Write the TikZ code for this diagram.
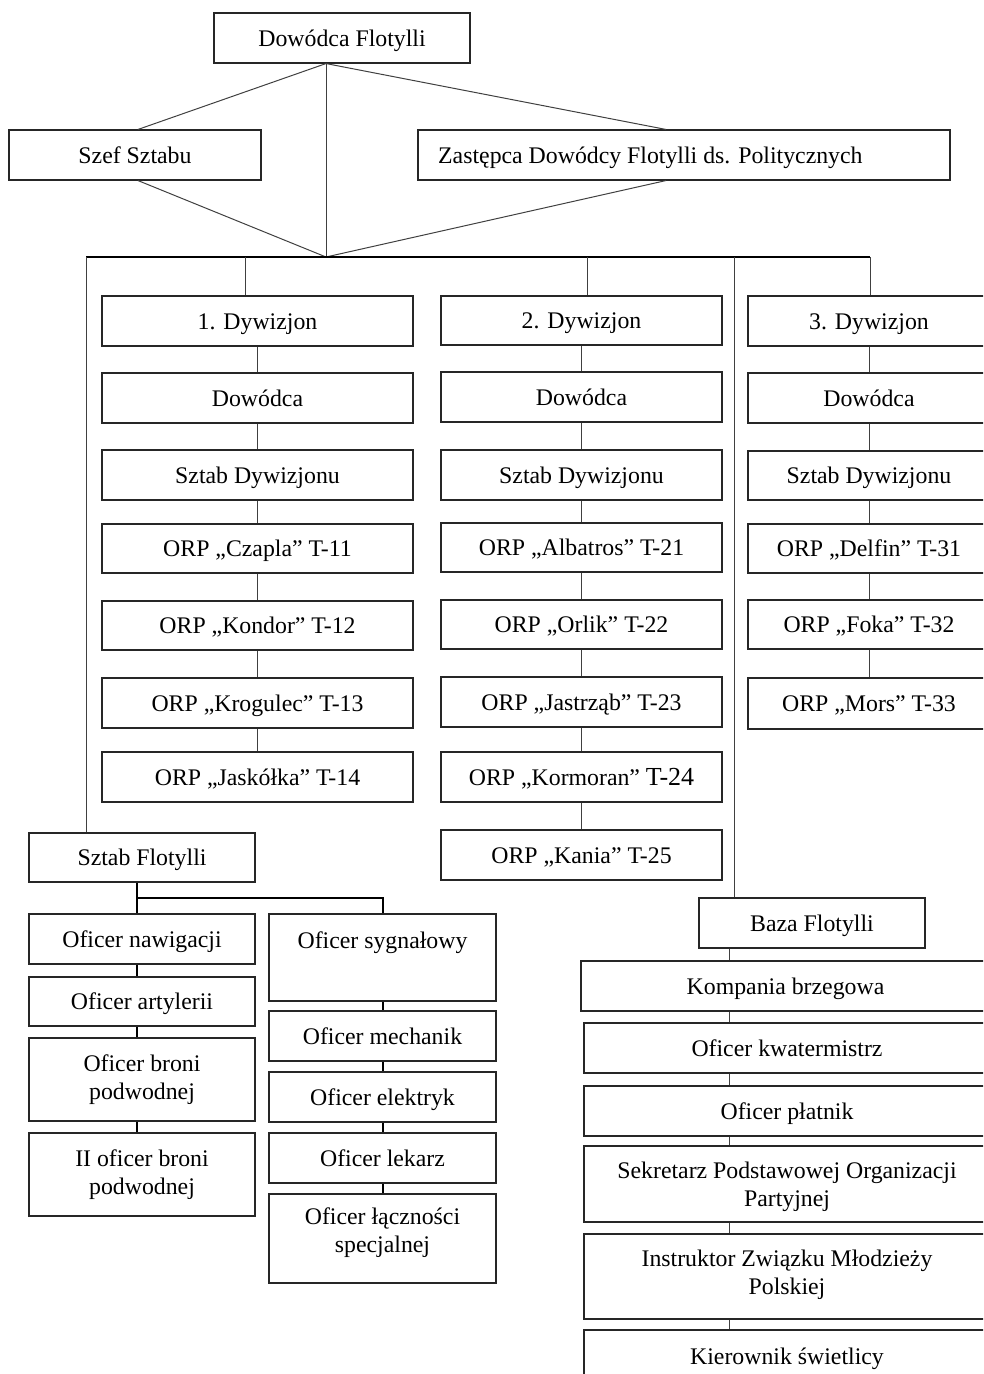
\documentclass[tikz,border=0pt]{standalone}
\usepackage{fontspec}
\setmainfont{Liberation Serif}
\begin{document}
\begin{tikzpicture}[x=1pt,y=-1pt,
  box/.style={draw=black!85,line width=1.1pt,inner sep=0pt,align=center,
    font=\fontsize{23.8}{28}\selectfont},
  one/.style={text height=19pt,text depth=3pt},
  lbl/.style={inner sep=0pt,align=center,
    font=\fontsize{23.8}{28}\selectfont},
  conn/.style={draw=black!75,line width=1pt},
  bold/.style={draw=black,line width=2pt}]
\useasboundingbox (0,0) rectangle (983,1374);
\clip (0,0) rectangle (983,1374);
\newcommand\orgbox[6]{\node[box,one,minimum width={(#4-#2)*1pt},minimum height={(#5-#3)*1pt}] (#1) at ({(#2+#4)/2},{(#3+#5)/2}) {#6};}
\newcommand\orgboxm[6]{\node[box,minimum width={(#4-#2)*1pt},minimum height={(#5-#3)*1pt}] (#1) at ({(#2+#4)/2},{(#3+#5)/2}) {#6};}
% top level
\orgbox{dow}{214}{13}{470}{63}{Dowódca Flotylli}
\orgbox{szef}{9}{130}{261}{180}{Szef Sztabu}
\orgbox{zast}{418}{130}{950}{180}{}
\node[lbl,one,anchor=west] (zastT) at (438,155) {Zastępca Dowódcy Flotylli ds. Politycznych};
% column 1
\orgbox{d1}{102}{296}{413}{346}{1. Dywizjon}
\orgbox{d1a}{102}{373}{413}{423}{Dowódca}
\orgbox{d1b}{102}{450}{413}{500}{Sztab Dywizjonu}
\orgbox{d1c}{102}{524}{413}{573}{ORP „Czapla” T-11}
\orgbox{d1d}{102}{601}{413}{650}{ORP „Kondor” T-12}
\orgbox{d1e}{102}{678}{413}{728}{ORP „Krogulec” T-13}
\orgbox{d1f}{102}{752}{413}{802}{ORP „Jaskółka” T-14}
% column 2
\orgbox{d2}{441}{296}{722}{345}{2. Dywizjon}
\orgbox{d2a}{441}{372}{722}{422}{Dowódca}
\orgbox{d2b}{441}{450}{722}{500}{Sztab Dywizjonu}
\orgbox{d2c}{441}{523}{722}{572}{ORP „Albatros” T-21}
\orgbox{d2d}{441}{600}{722}{649}{ORP „Orlik” T-22}
\orgbox{d2e}{441}{677}{722}{727}{ORP „Jastrząb” T-23}
\orgbox{d2f}{441}{752}{722}{802}{ORP „Kormoran” {\fontsize{26}{28}\selectfont T-24}}
\orgbox{d2g}{441}{830}{722}{880}{ORP „Kania” T-25}
% column 3
\orgbox{d3}{748}{296}{990}{346}{3. Dywizjon}
\orgbox{d3a}{748}{373}{990}{423}{Dowódca}
\orgbox{d3b}{748}{451}{990}{500}{Sztab Dywizjonu}
\orgbox{d3c}{748}{524}{990}{573}{ORP „Delfin” T-31}
\orgbox{d3d}{748}{600}{990}{649}{ORP „Foka” T-32}
\orgbox{d3e}{748}{678}{990}{729}{ORP „Mors” T-33}
% Sztab Flotylli
\orgbox{sf}{29}{833}{255}{882}{Sztab Flotylli}
\orgbox{nav}{29}{914}{255}{964}{Oficer nawigacji}
\orgbox{art}{29}{977}{255}{1026}{Oficer artylerii}
\orgboxm{bron}{29}{1038}{255}{1121}{Oficer broni\\podwodnej}
\orgboxm{bronb}{29}{1133}{255}{1216}{II oficer broni\\podwodnej}
\orgbox{syg}{269}{914}{496}{1001}{}
\node[lbl,one] (sygT) at (382.5,940) {Oficer sygnałowy};
\orgbox{mech}{269}{1011}{496}{1061}{Oficer mechanik}
\orgbox{elek}{269}{1072}{496}{1122}{Oficer elektryk}
\orgbox{lek}{269}{1133}{496}{1183}{Oficer lekarz}
\orgbox{lacz}{269}{1194}{496}{1283}{}
\node[lbl] (laczT) at (382.5,1233) {Oficer łączności\\specjalnej};
% Baza Flotylli
\orgbox{baza}{699}{898}{925}{948}{Baza Flotylli}
\orgbox{komp}{581}{961}{990}{1011}{Kompania brzegowa}
\orgbox{kwat}{584}{1023}{990}{1073}{Oficer kwatermistrz}
\orgbox{plat}{584}{1086}{990}{1136}{Oficer płatnik}
\orgbox{sekr}{584}{1146}{990}{1222}{}
\node[lbl] (sekrT) at (787,1187) {Sekretarz Podstawowej Organizacji\\Partyjnej};
\orgbox{instr}{584}{1234}{990}{1319}{}
\node[lbl] (instrT) at (787,1275) {Instruktor Związku Młodzieży\\Polskiej};
\orgbox{kier}{584}{1330}{990}{1382}{Kierownik świetlicy}
% connector coordinates
\coordinate (hub) at (326,257);
\coordinate (sx) at (138,0);
\coordinate (zx) at (666,0);
\coordinate (busL) at (86,257);
\coordinate (busR) at (870,257);
\coordinate (b1) at (245,257);
\coordinate (b2) at (587,257);
\coordinate (bB) at (734,257);
\coordinate (tl) at (137,0);
\coordinate (tr) at (383,0);
\coordinate (jL) at (137,898);
\coordinate (jR) at (383,898);
\coordinate (cB) at (729,0);
% top connectors
\draw[conn] (dow.south -| hub) -- (szef.north -| sx);
\draw[conn] (dow.south -| hub) -- (zast.north -| zx);
\draw[conn] (dow.south -| hub) -- (hub);
\draw[conn] (szef.south -| sx) -- (hub);
\draw[conn] (zast.south -| zx) -- (hub);
\draw[bold] (busL) -- (busR);
\draw[conn] (busL) -- (sf.north -| busL);
\draw[conn] (b1) -- (d1.north -| b1);
\draw[conn] (b2) -- (d2.north -| b2);
\draw[conn] (bB) -- (baza.north -| bB);
\draw[conn] (busR) -- (d3.north -| busR);
% columns
\foreach \a/\b in {d1/d1a,d1a/d1b,d1b/d1c,d1c/d1d,d1d/d1e,d1e/d1f,
  d2/d2a,d2a/d2b,d2b/d2c,d2c/d2d,d2d/d2e,d2e/d2f,d2f/d2g,
  d3/d3a,d3a/d3b,d3b/d3c,d3c/d3d,d3d/d3e}
  \draw[conn] (\a.south) -- (\b.north);
% Sztab Flotylli tree
\draw[bold] (sf.south -| tl) -- (nav.north -| tl);
\draw[bold] (jL) -- (jR) -- (syg.north -| tr);
\foreach \a/\b in {nav/art,art/bron,bron/bronb}
  \draw[bold] (\a.south -| tl) -- (\b.north -| tl);
\foreach \a/\b in {syg/mech,mech/elek,elek/lek,lek/lacz}
  \draw[bold] (\a.south -| tr) -- (\b.north -| tr);
% Baza tree
\foreach \a/\b in {baza/komp,komp/kwat,kwat/plat,plat/sekr,sekr/instr,instr/kier}
  \draw[conn] (\a.south -| cB) -- (\b.north -| cB);
\end{tikzpicture}
\end{document}
